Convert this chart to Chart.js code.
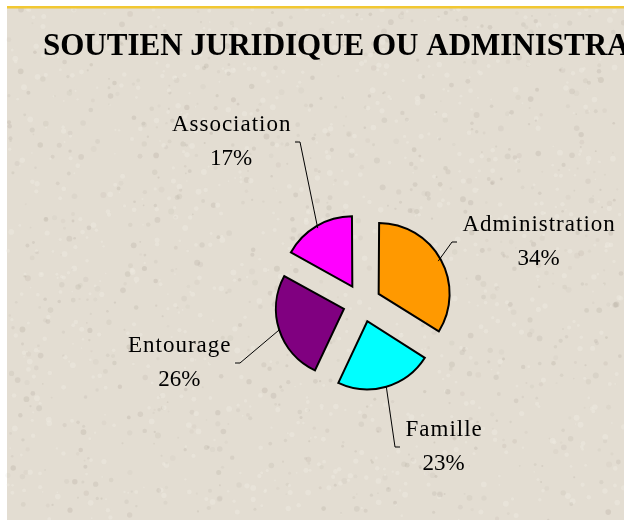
<!DOCTYPE html>
<html>
<head>
<meta charset="utf-8">
<script src="https://cdn.jsdelivr.net/npm/chart.js@4/dist/chart.umd.min.js"></script>
<style>
  html, body { margin: 0; padding: 0; background: #fff; }
  canvas { display: block; }
</style>
</head>
<body>
<canvas id="grafico" width="624" height="520"></canvas>
<script>
const titre = "SOUTIEN JURIDIQUE OU ADMINISTRATIF";
const categories = ["Administration", "Famille", "Entourage", "Association"];
const valeurs = [34, 23, 26, 17];
const couleurs = ["#FF9900", "#00FFFF", "#800080", "#FF00FF"];

// fond texture beige + filet jaune
const fondTexture = {
  id: "fondTexture",
  beforeDraw(chart) {
    const ctx = chart.ctx;
    const w = chart.width, h = chart.height;
    ctx.save();
    ctx.fillStyle = "#ffffff";
    ctx.fillRect(0, 0, w, h);
    ctx.fillStyle = "rgb(227,221,210)";
    ctx.fillRect(7, 8, w - 7, h - 8);
    // petites taches (graine fixe)
    let s = 12345;
    const rnd = () => { s = (s * 1103515245 + 12345) % 2147483648; return s / 2147483648; };
    for (let i = 0; i < 1800; i++) {
      const x = 7 + rnd() * (w - 7);
      const y = 8 + rnd() * (h - 8);
      const r = 0.8 + rnd() * 2.2;
      const clair = rnd() < 0.5;
      ctx.fillStyle = clair ? "rgba(238,233,224,0.5)" : "rgba(160,150,138," + (0.06 + rnd() * 0.16) + ")";
      ctx.beginPath();
      ctx.arc(x, y, r, 0, Math.PI * 2);
      ctx.fill();
    }
    ctx.fillStyle = "#F2C832";
    ctx.fillRect(7, 6, w - 7, 2.5);
    // titre
    ctx.fillStyle = "#000";
    ctx.font = "bold 31px 'Liberation Serif', 'Times New Roman', serif";
    ctx.textBaseline = "alphabetic";
    ctx.textAlign = "left";
    ctx.fillText(titre, 43, 55);
    ctx.restore();
  }
};

// etiquettes avec lignes de rappel
const etiquettes = {
  id: "etiquettes",
  afterDatasetsDraw(chart, args, opts) {
    const ctx = chart.ctx;
    const meta = chart.getDatasetMeta(0);
    const total = valeurs.reduce((a, b) => a + b, 0);
    ctx.save();
    meta.data.forEach((arc, i) => {
      const p = arc.getProps(["x", "y", "startAngle", "endAngle", "outerRadius"], true);
      const mid = (p.startAngle + p.endAngle) / 2;
      const dec = (arc.options.offset || 0) / 4;
      const cx = p.x + Math.cos(mid) * dec;
      const cy = p.y + Math.sin(mid) * dec;
      const x0 = cx + Math.cos(mid) * p.outerRadius;
      const y0 = cy + Math.sin(mid) * p.outerRadius;
      const coude = opts.coudes[i];
      const x1 = p.x + coude[0];
      const y1 = p.y + coude[1];
      const droite = x1 > p.x;
      const x2 = x1 + (droite ? 5 : -5);

      ctx.strokeStyle = "#000";
      ctx.lineWidth = 1;
      ctx.beginPath();
      ctx.moveTo(x0, y0);
      ctx.lineTo(x1, y1);
      ctx.lineTo(x2, y1);
      ctx.stroke();

      const nom = categories[i];
      const pct = Math.round(valeurs[i] / total * 100) + "%";
      ctx.font = "23px 'Liberation Serif', 'Times New Roman', serif";
      ctx.fillStyle = "#000";
      ctx.textBaseline = "middle";
      ctx.textAlign = "center";
      ctx.letterSpacing = "1px";
      const lNom = ctx.measureText(nom).width;
      ctx.letterSpacing = "0px";
      const lPct = ctx.measureText(pct).width;
      const larg = Math.max(lNom, lPct);
      const tx = droite ? x2 + 5 + larg / 2 : x2 - 4 - larg / 2;
      ctx.letterSpacing = "1px";
      ctx.fillText(nom, tx + 0.5, y1 - 17);
      ctx.letterSpacing = "0px";
      ctx.fillText(pct, tx, y1 + 17);
    });
    ctx.restore();
  }
};

new Chart(document.getElementById("grafico"), {
  type: "pie",
  data: {
    labels: categories,
    datasets: [{
      data: valeurs,
      backgroundColor: couleurs,
      borderColor: "#000",
      borderWidth: 2,
      borderJoinStyle: "miter",
      offset: 76
    }]
  },
  options: {
    responsive: false,
    animation: false,
    radius: 68,
    layout: { padding: { left: 262, right: 162, top: 203, bottom: 117 } },
    plugins: {
      legend: { display: false },
      tooltip: { enabled: false },
      title: { display: false },
      etiquettes: {
        coudes: [[90, -61], [33, 144], [-122, 60], [-62, -161]]
      }
    }
  },
  plugins: [fondTexture, etiquettes]
});
</script>
</body>
</html>
